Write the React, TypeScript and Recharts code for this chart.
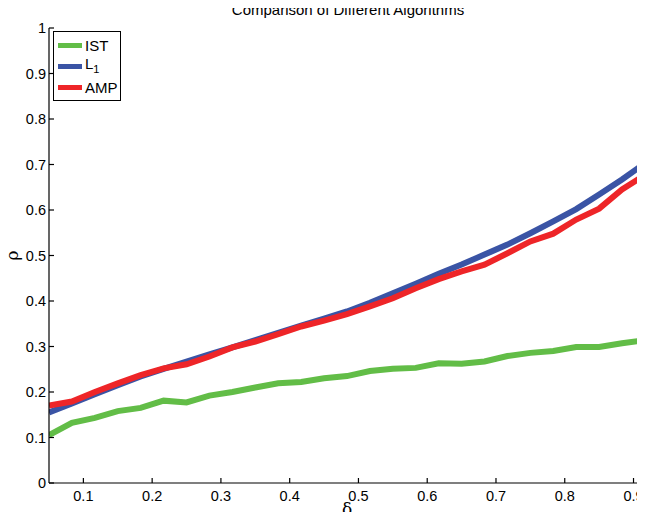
import React from "react";
import { LineChart, Line, XAxis, YAxis, Legend, Label } from "recharts";

const delta = [
  0.05, 0.0833, 0.1167, 0.15, 0.1833, 0.2167, 0.25, 0.2833, 0.3167, 0.35,
  0.3833, 0.4167, 0.45, 0.4833, 0.5167, 0.55, 0.5833, 0.6167, 0.65, 0.6833,
  0.7167, 0.75, 0.7833, 0.8167, 0.85, 0.8833, 0.9167,
];
const ist = [
  0.105, 0.132, 0.143, 0.158, 0.165, 0.181, 0.177, 0.192, 0.2, 0.21, 0.219,
  0.222, 0.23, 0.235, 0.246, 0.251, 0.253, 0.263, 0.262, 0.267, 0.279, 0.286,
  0.29, 0.299, 0.299, 0.307, 0.314,
];
const l1 = [
  0.155, 0.175, 0.195, 0.215, 0.234, 0.251, 0.267, 0.283, 0.298, 0.314, 0.33,
  0.346, 0.361, 0.377, 0.396, 0.417, 0.438, 0.46, 0.48, 0.502, 0.524, 0.549,
  0.575, 0.602, 0.634, 0.667, 0.703,
];
const amp = [
  0.17, 0.179, 0.2, 0.219, 0.237, 0.252, 0.261, 0.278, 0.298, 0.311, 0.327,
  0.344, 0.357, 0.371, 0.388, 0.406, 0.428, 0.448, 0.465, 0.48, 0.505, 0.531,
  0.548, 0.579, 0.603, 0.645, 0.677,
];
const xTicks = [0.1, 0.2, 0.3, 0.4, 0.5, 0.6, 0.7, 0.8, 0.9];
const yTicks = [0, 0.1, 0.2, 0.3, 0.4, 0.5, 0.6, 0.7, 0.8, 0.9, 1];

const data = delta.map((d, i) => ({ delta: d, ist: ist[i], l1: l1[i], amp: amp[i] }));

const FONT = '"Liberation Sans", Arial, sans-serif';
const SERIF = '"DejaVu Serif", "Liberation Serif", serif';
const GREEN = "#62bd47";
const BLUE = "#3a54a5";
const RED = "#ee2528";

const BottomTick = ({ x, y, payload }: any) => (
  <g>
    <line x1={x} y1={y} x2={x} y2={y - 5} stroke="#000" strokeWidth={1.2} />
    <text x={x} y={y + 18} textAnchor="middle" fontSize={14.5} fontFamily={FONT} fill="#000">
      {payload.value}
    </text>
  </g>
);

const TopTick = ({ x, y }: any) => (
  <line x1={x} y1={y} x2={x} y2={y + 5} stroke="#000" strokeWidth={1.2} />
);

const LeftTick = ({ x, y, payload }: any) => (
  <g>
    <line x1={x} y1={y} x2={x + 5} y2={y} stroke="#000" strokeWidth={1.2} />
    <text x={x - 3} y={y + 5} textAnchor="end" fontSize={14.5} fontFamily={FONT} fill="#000">
      {payload.value}
    </text>
  </g>
);

const RightTick = ({ x, y }: any) => (
  <line x1={x} y1={y} x2={x - 5} y2={y} stroke="#000" strokeWidth={1.2} />
);

const DeltaLabel = ({ viewBox }: any) => (
  <text x={viewBox.x + viewBox.width / 2} y={viewBox.y + viewBox.height - 5} textAnchor="middle" fontSize={17} fontFamily={SERIF} fill="#000">
    δ
  </text>
);

const RhoLabel = ({ viewBox }: any) => {
  const cx = viewBox.x + 12;
  const cy = viewBox.y + viewBox.height / 2;
  return (
    <text x={cx} y={cy} transform={`rotate(-90 ${cx} ${cy})`} textAnchor="middle" dominantBaseline="central" fontSize={17} fontFamily={SERIF} fill="#000">
      ρ
    </text>
  );
};

const legendItems = [
  { label: "IST", color: GREEN },
  { label: "L", sub: "1", color: BLUE },
  { label: "AMP", color: RED },
];

const LegendBox = () => (
  <div
    style={{
      border: "1px solid #000",
      background: "#fff",
      width: 68,
      padding: "3px 0 2px 4px",
      fontFamily: FONT,
      fontSize: 15,
      lineHeight: "21px",
      boxSizing: "border-box",
    }}
  >
    {legendItems.map((it) => (
      <div key={it.label} style={{ display: "flex", alignItems: "center", height: 21 }}>
        <span style={{ display: "inline-block", width: 24, height: 5, background: it.color, marginRight: 3 }} />
        <span>
          {it.label}
          {it.sub && <sub style={{ fontSize: 11 }}>{it.sub}</sub>}
        </span>
      </div>
    ))}
  </div>
);

export default function App() {
  return (
    <div style={{ position: "relative", margin: -8, width: 645, height: 520, background: "#fff" }}>
      <LineChart width={645} height={520} data={data} margin={{ top: 28, right: 0, bottom: 0, left: 0 }}>
        <XAxis
          dataKey="delta"
          type="number"
          domain={[0.05, 0.9167]}
          allowDataOverflow
          ticks={xTicks}
          height={37}
          tickSize={0}
          tickMargin={0}
          tickLine={false}
          tick={<BottomTick />}
          axisLine={{ stroke: "#000", strokeWidth: 1.2 }}
          interval={0}
        >
          <Label content={DeltaLabel} />
        </XAxis>
        <XAxis
          xAxisId="top"
          orientation="top"
          dataKey="delta"
          type="number"
          domain={[0.05, 0.9167]}
          allowDataOverflow
          ticks={xTicks}
          height={0}
          tickSize={0}
          tickMargin={0}
          tickLine={false}
          tick={<TopTick />}
          axisLine={{ stroke: "#000", strokeWidth: 1.2 }}
          interval={0}
        />
        <YAxis
          type="number"
          domain={[0, 1]}
          ticks={yTicks}
          width={49}
          tickSize={0}
          tickMargin={0}
          tickLine={false}
          tick={<LeftTick />}
          axisLine={{ stroke: "#000", strokeWidth: 1.2 }}
          interval={0}
        >
          <Label content={RhoLabel} />
        </YAxis>
        <YAxis
          yAxisId="right"
          orientation="right"
          type="number"
          domain={[0, 1]}
          ticks={yTicks}
          width={0}
          tickSize={0}
          tickMargin={0}
          tickLine={false}
          tick={<RightTick />}
          axisLine={{ stroke: "#000", strokeWidth: 1.2 }}
          interval={0}
        />
        <Legend
          layout="vertical"
          align="center"
          verticalAlign="middle"
          content={<LegendBox />}
          wrapperStyle={{ left: 53, top: 31, width: 68 }}
        />
        <Line type="linear" dataKey="ist" name="IST" stroke={GREEN} strokeWidth={6} dot={false} isAnimationActive={false} />
        <Line type="linear" dataKey="l1" name="L1" stroke={BLUE} strokeWidth={6} dot={false} isAnimationActive={false} />
        <Line type="linear" dataKey="amp" name="AMP" stroke={RED} strokeWidth={6} dot={false} isAnimationActive={false} />
      </LineChart>
      <div
        style={{
          position: "absolute",
          zIndex: 10,
          top: 1,
          left: 49,
          width: 598,
          textAlign: "center",
          fontFamily: FONT,
          fontSize: 15,
          lineHeight: "17px",
          whiteSpace: "nowrap",
        }}
      >
        Comparison of Different Algorithms
      </div>
    </div>
  );
}
